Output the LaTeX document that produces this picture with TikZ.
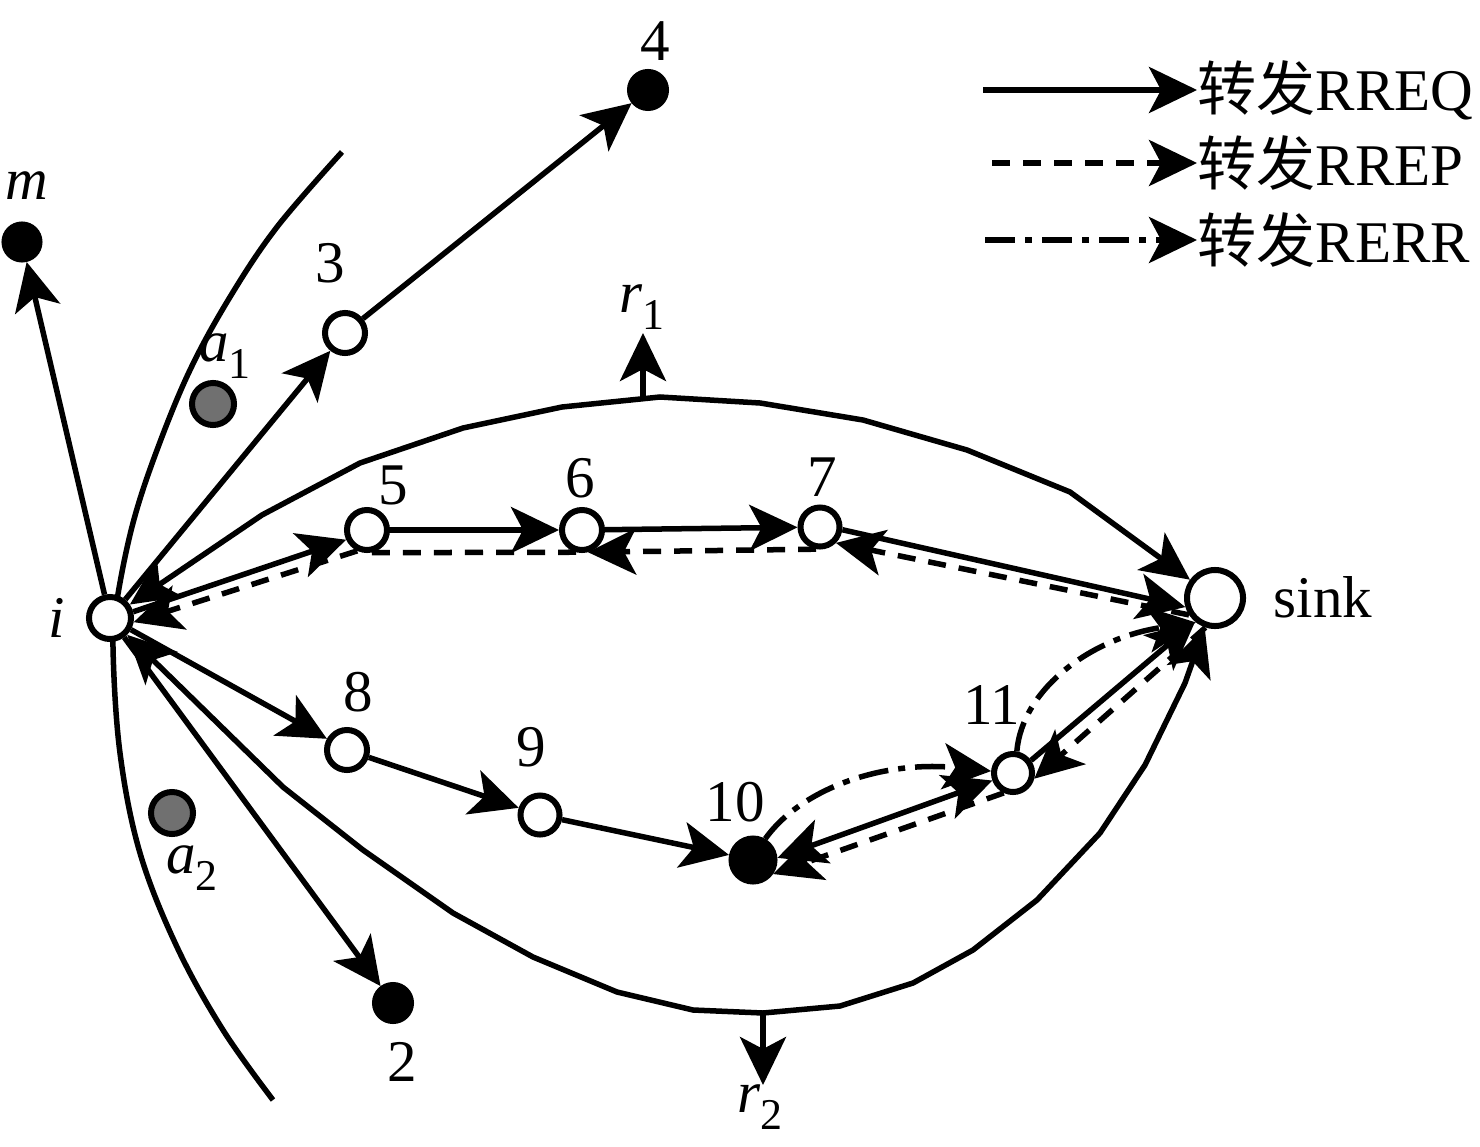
\documentclass[tikz,border=0pt]{standalone}
\usepackage{fontspec}
\setmainfont{Liberation Serif}
\newfontfamily\cjk{Noto Sans CJK SC}
\usetikzlibrary{arrows.meta}
\definecolor{agray}{RGB}{112,112,112}
\newcommand{\labfont}{\fontsize{16.8}{20}\selectfont}
\newcommand{\subfnt}[1]{\raisebox{-0.28em}{\fontsize{12.5}{13}\selectfont #1}}
\tikzset{
  >={Stealth[length=0.48cm,width=0.46cm,inset=0.12cm]},
  base/.style={line width=0.055cm},
  req/.style={base,->},
  rep/.style={base,->,dash pattern=on 0.18cm off 0.13cm},
  repline/.style={base,dash pattern=on 0.18cm off 0.13cm},
  rerr/.style={base,->,dash pattern=on 0.30cm off 0.10cm on 0.07cm off 0.10cm},
  opennode/.style={circle,draw,fill=white,line width=0.06cm,minimum size=0.40cm,inner sep=0pt},
  blacknode/.style={circle,draw,fill=black,line width=0.06cm,minimum size=0.35cm,inner sep=0pt},
  graynode/.style={circle,draw,fill=agray,line width=0.06cm,minimum size=0.42cm,inner sep=0pt},
  lab/.style={inner sep=0pt,font=\labfont},
}
\begin{document}
\begin{tikzpicture}[x=0.01cm,y=-0.01cm]
\useasboundingbox (0,0) rectangle (1480,1146);

% left boundary arc (drawn first, nodes cover it)
\draw[base] plot[smooth,tension=0.6] coordinates {(342,152) (277,227) (230,297) (190,370) (157,450) (133,523) (117,600) (113,647) (120,753) (140,853) (177,947) (223,1030) (273,1100)};

% nodes
\node[opennode,minimum size=0.42cm] (i) at (110,618) {};
\node[blacknode] (m) at (22,242) {};
\node[blacknode,minimum size=0.36cm] (n4) at (648,90) {};
\node[opennode] (n3) at (345,333) {};
\node[graynode] (a1) at (213,404) {};
\node[opennode] (n5) at (367,530) {};
\node[opennode] (n6) at (582,530) {};
\node[opennode,minimum size=0.39cm] (n7) at (820,527) {};
\node[opennode,minimum size=0.56cm] (sink) at (1215,598) {};
\node[opennode] (n8) at (347,750) {};
\node[opennode,minimum size=0.39cm] (n9) at (540,815) {};
\node[blacknode,minimum size=0.43cm] (n10) at (753,860) {};
\node[opennode,minimum size=0.38cm] (n11) at (1013,773) {};
\node[graynode] (a2) at (172,813) {};
\node[blacknode,minimum size=0.36cm] (n2) at (393,1003) {};

% labels
\node[lab] (li) at (57,618) {\textit{i}};
\node[lab] (lm) at (27,186) {\textit{m}};
\node[lab] (l4) at (655,41) {4};
\node[lab] (l3) at (330,263) {3};
\node[lab] (la1) at (225,356) {\textit{a}\subfnt{1}};
\node[lab] (l5) at (393,485) {5};
\node[lab] (l6) at (580,478) {6};
\node[lab] (l7) at (822,477) {7};
\node[lab] (lsink) at (1323,597) {sink};
\node[lab] (l8) at (358,692) {8};
\node[lab] (l9) at (531,747) {9};
\node[lab] (l10) at (735,802) {10};
\node[lab] (l11) at (992,705) {11};
\node[lab] (la2) at (192,868) {\textit{a}\subfnt{2}};
\node[lab] (l2) at (402,1062) {2};
\node[lab] (lr1) at (642,307) {\textit{r}\subfnt{1}};
\node[lab] (lr2) at (760,1107) {\textit{r}\subfnt{2}};

% region boundaries
\draw[base,<->] (i) -- (262,515) -- (360,463) -- (463,428) -- (562,407) -- (660,397) -- (760,403) -- (863,420) -- (967,450) -- (1070,492) -- (sink);
\draw[base,<->] (i) -- (283,787) -- (363,850) -- (453,913) -- (533,957) -- (617,992) -- (693,1010) -- (763,1013) -- (840,1006) -- (913,983) -- (973,950) -- (1037,900) -- (1100,833) -- (1145,765) -- (1185,683) -- (sink);
\coordinate (r1s) at (643,399);
\coordinate (r1e) at (643,333);
\draw[req] (r1s) -- (r1e);
\coordinate (r2s) at (763,1013);
\coordinate (r2e) at (763,1085);
\draw[req] (r2s) -- (r2e);

% RREQ
\draw[req] (i) -- (m);
\draw[req] (i) -- (n3);
\draw[req] (n3) -- (n4);
\draw[req] (i) -- (n2);
\draw[req] (i) -- (n8);
\draw[req] (n8) -- (n9);
\draw[req] (n9) -- (n10);
\draw[req] (i.15) -- (n5.205);
\draw[req] (n5) -- (n6);
\draw[req] (n6) -- (n7);
\draw[req] (n7.-7) -- (sink.197);
\draw[base,<->] (n10.5) -- (n11.200);
\draw[req] (n11.35) -- (sink.230);

% RREP
\draw[rep] (sink.213) -- (n7.-45);
\draw[rep] (n7.-100) -- (n6.-75);
\draw[repline] (n6.-105) -- (n5.-80);
\draw[rep] (n5.245) -- (i.-10);
\draw[rep] (sink.252) -- (n11.-15);
\draw[rep] (n11.245) -- (n10.-35);

% RERR
\draw[rerr] (n10.60) .. controls (800,790) and (880,760) .. (n11.175);
\draw[rerr] (n11.80) .. controls (1022,690) and (1090,638) .. (sink.232);

% legend
\coordinate (g1) at (983,90);
\coordinate (g2) at (992,163);
\coordinate (g3) at (985,240);
\node[lab,anchor=west] (t1) at (1197,90) {{\cjk 转发}RREQ};
\node[lab,anchor=west] (t2) at (1197,163) {{\cjk 转发}RREP};
\node[lab,anchor=west] (t3) at (1197,240) {{\cjk 转发}RERR};
\draw[req] (g1) -- (t1.west);
\draw[rep] (g2) -- (t2.west);
\draw[rerr] (g3) -- (t3.west);
\end{tikzpicture}
\end{document}
